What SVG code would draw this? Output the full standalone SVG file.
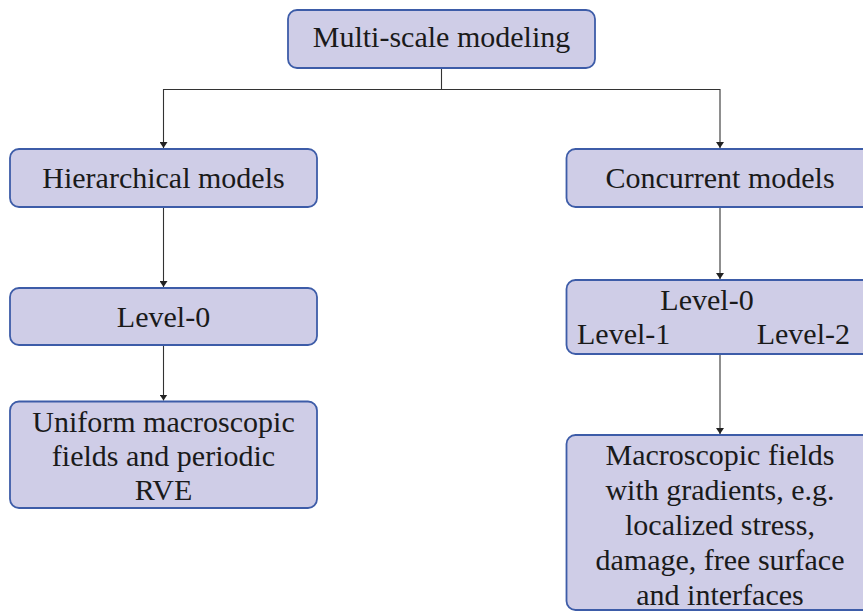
<svg xmlns="http://www.w3.org/2000/svg" width="863" height="612" viewBox="0 0 863 612">
<defs>
<style>
.box{fill:#CFCDE7;stroke:#3D5CA8;stroke-width:1.8}
.c{fill:none;stroke:#333;stroke-width:1.1}
</style>
<marker id="arr" viewBox="0 0 10 10" refX="10" refY="5" markerWidth="6" markerHeight="8" markerUnits="userSpaceOnUse" orient="auto" preserveAspectRatio="none">
<path d="M0,0 L10,5 L0,10 Z" fill="#222"/>
</marker>
</defs>
<rect width="863" height="612" fill="#fff"/>
<g id="connectors">
<path class="c" d="M441.5,68 V89.5 H163.5 V148" marker-end="url(#arr)"/>
<path class="c" d="M441.5,89.5 H720 V148" marker-end="url(#arr)"/>
<path class="c" d="M163.5,207 V287" marker-end="url(#arr)"/>
<path class="c" d="M163.5,345 V400.5" marker-end="url(#arr)"/>
<path class="c" d="M720,207 V279" marker-end="url(#arr)"/>
<path class="c" d="M720,354 V434" marker-end="url(#arr)"/>
</g>
<g font-family="Liberation Serif, serif" font-size="30" fill="#1a1a1a" text-anchor="middle">
<g id="multiscale">
<rect class="box" x="288" y="10" width="307" height="58" rx="9"/>
<text x="441.5" y="47">Multi-scale modeling</text>
</g>
<g id="hierarchical">
<rect class="box" x="10" y="149" width="307" height="58" rx="9"/>
<text x="163.5" y="188">Hierarchical models</text>
</g>
<g id="concurrent">
<rect class="box" x="566.5" y="149" width="307" height="58" rx="9"/>
<text x="720" y="188">Concurrent models</text>
</g>
<g id="level0-left">
<rect class="box" x="10" y="288" width="307" height="57" rx="9"/>
<text x="163.5" y="327">Level-0</text>
</g>
<g id="level-right">
<rect class="box" x="566.5" y="280" width="307" height="74" rx="9"/>
<text x="707" y="310">Level-0</text>
<text x="577" y="344" text-anchor="start">Level-1</text>
<text x="850" y="344" text-anchor="end">Level-2</text>
</g>
<g id="uniform">
<rect class="box" x="10" y="401.5" width="307" height="106.5" rx="9"/>
<text x="163.5" y="432">Uniform macroscopic</text>
<text x="163.5" y="466">fields and periodic</text>
<text x="163.5" y="500">RVE</text>
</g>
<g id="macroscopic">
<rect class="box" x="566.5" y="435" width="307" height="175" rx="9"/>
<text x="720" y="465">Macroscopic fields</text>
<text x="720" y="500">with gradients, e.g.</text>
<text x="720" y="535">localized stress,</text>
<text x="720" y="570">damage, free surface</text>
<text x="720" y="605">and interfaces</text>
</g>
</g>
</svg>
